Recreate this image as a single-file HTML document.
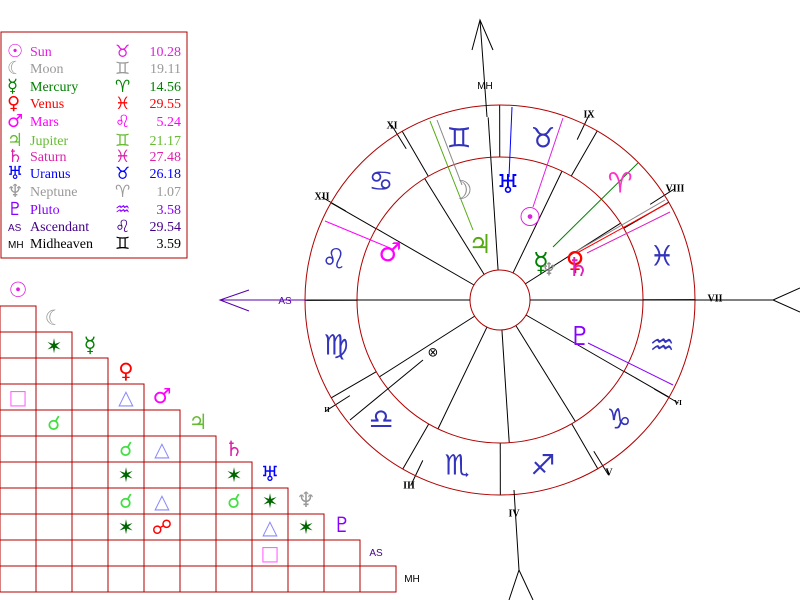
<!DOCTYPE html>
<html><head><meta charset="utf-8"><style>
html,body{margin:0;padding:0;background:#fff;width:800px;height:600px;overflow:hidden}
svg{display:block}
.g{font-family:"DejaVu Sans",sans-serif}
.t{font-family:"Liberation Serif",serif;font-size:14px}
.r{font-family:"Liberation Serif",serif;font-size:10px;font-weight:bold}
.s{font-family:"Liberation Sans",sans-serif;font-size:10px}
</style></head><body>
<svg id="c" width="800" height="600" viewBox="0 0 800 600" xmlns="http://www.w3.org/2000/svg">
<g id="lines" stroke="#000" stroke-width="1" fill="none"></g>
<circle cx="500" cy="300" r="195" fill="none" stroke="#b00000" stroke-width="1"/>
<circle cx="500" cy="300" r="143" fill="none" stroke="#b00000" stroke-width="1"/>
<circle cx="500" cy="300" r="30" fill="#fff" stroke="#b00000" stroke-width="1"/>
<g stroke="#000" fill="none">
<line x1="470" y1="300" x2="307" y2="300"/>
<line x1="530" y1="300" x2="773" y2="300"/>
<polyline points="800,288 773,300 800,312"/>
<line x1="487" y1="117" x2="480" y2="20"/>
<polyline points="472,50 480,20 493,50"/>
<line x1="514" y1="490" x2="519" y2="570"/>
<polyline points="509,600 519,570 533,600"/>
</g>
<g stroke="#5500aa" fill="none">
<line x1="307" y1="300" x2="220" y2="300"/>
<polyline points="249,290 220,300 249,311"/>
</g>
<g fill="none" stroke-width="1">
<line x1="563" y1="118" x2="533" y2="207" stroke="#e020e0"/>
<line x1="437" y1="120" x2="462" y2="185" stroke="#888"/>
<line x1="430" y1="121" x2="473" y2="230" stroke="#55aa11"/>
<line x1="512" y1="107" x2="509" y2="177" stroke="#0000ff"/>
<line x1="638" y1="163" x2="553" y2="247" stroke="#008000"/>
<line x1="665" y1="200" x2="570" y2="255" stroke="#888"/>
<line x1="668" y1="203" x2="577" y2="253" stroke="#ff0000"/>
<line x1="670" y1="212" x2="587" y2="253" stroke="#dd22bb"/>
<line x1="325" y1="221" x2="390" y2="248" stroke="#ff00ff"/>
<line x1="588" y1="343" x2="673" y2="385" stroke="#8800ff"/>
<line x1="423" y1="360" x2="350" y2="420" stroke="#000"/>
</g>
<g class="g" font-size="28" fill="#3333bb" text-anchor="middle" dominant-baseline="central">
<text x="662" y="256">♓</text>
<text x="620" y="183" fill="#ff33cc">♈</text>
<text x="543" y="138">♉</text>
<text x="459" y="138">♊</text>
<text x="381" y="181">♋</text>
<text x="334" y="259">♌</text>
<text x="336" y="345">♍</text>
<text x="381" y="419">♎</text>
<text x="457" y="465">♏</text>
<text x="543" y="465">♐</text>
<text x="619" y="419">♑</text>
<text x="662" y="345">♒</text>
</g>
<g class="g" font-size="26" text-anchor="middle" dominant-baseline="central">
<text x="530" y="218" fill="#e020e0">☉</text>
<text x="461" y="191" fill="#888">☽</text>
<text x="480" y="245" fill="#55aa11">♃</text>
<text x="508" y="185" fill="#0000ff">♅</text>
<text x="541" y="263" fill="#008000">☿</text>
<text x="549" y="270" fill="#888" font-size="18">♆</text>
<text x="575" y="262" fill="#ff0000">♀</text>
<text x="578" y="268" fill="#dd22bb">♄</text>
<text x="390" y="253" fill="#ff00ff">♂</text>
<text x="580" y="337" fill="#8800ff">♇</text>
<text x="433" y="353" fill="#000" font-size="13">⊗</text>
</g>
<g class="r" text-anchor="middle" dominant-baseline="central" fill="#000">
<text x="392" y="126">XI</text>
<text x="589" y="115">IX</text>
<text x="675" y="189">VIII</text>
<text x="715" y="299">VII</text>
<text x="678" y="403" font-size="7">VI</text>
<text x="609" y="473">V</text>
<text x="514" y="514">IV</text>
<text x="409" y="486">III</text>
<text x="327" y="410" font-size="7">II</text>
<text x="322" y="197">XII</text>
</g>
<text x="485" y="89" class="s" text-anchor="middle" fill="#000">MH</text>
<text x="285" y="304" class="s" text-anchor="middle" fill="#5500aa">AS</text>

<rect x="1" y="32" width="186" height="226" fill="none" stroke="#b00000"/>
<g class="t">
<g fill="#e020e0"><text x="7" y="57" class="g" font-size="18">☉</text><text x="30" y="56">Sun</text><text x="115" y="57" class="g" font-size="17">♉</text><text x="181" y="56" text-anchor="end">10.28</text></g>
<g fill="#999"><text x="7" y="74" class="g" font-size="18">☾</text><text x="30" y="73">Moon</text><text x="115" y="74" class="g" font-size="17">♊</text><text x="181" y="73" text-anchor="end">19.11</text></g>
<g fill="#008000"><text x="7" y="92" class="g" font-size="18">☿</text><text x="30" y="91">Mercury</text><text x="115" y="92" class="g" font-size="17">♈</text><text x="181" y="91" text-anchor="end">14.56</text></g>
<g fill="#ff0000"><text x="7" y="109" class="g" font-size="18">♀</text><text x="30" y="108">Venus</text><text x="115" y="109" class="g" font-size="17">♓</text><text x="181" y="108" text-anchor="end">29.55</text></g>
<g fill="#ff00ff"><text x="7" y="127" class="g" font-size="18">♂</text><text x="30" y="126">Mars</text><text x="115" y="127" class="g" font-size="17">♌</text><text x="181" y="126" text-anchor="end">5.24</text></g>
<g fill="#66bb33"><text x="7" y="146" class="g" font-size="18">♃</text><text x="30" y="145">Jupiter</text><text x="115" y="146" class="g" font-size="17">♊</text><text x="181" y="145" text-anchor="end">21.17</text></g>
<g fill="#dd22aa"><text x="7" y="162" class="g" font-size="18">♄</text><text x="30" y="161">Saturn</text><text x="115" y="162" class="g" font-size="17">♓</text><text x="181" y="161" text-anchor="end">27.48</text></g>
<g fill="#0000ff"><text x="7" y="179" class="g" font-size="18">♅</text><text x="30" y="178">Uranus</text><text x="115" y="179" class="g" font-size="17">♉</text><text x="181" y="178" text-anchor="end">26.18</text></g>
<g fill="#999"><text x="7" y="197" class="g" font-size="18">♆</text><text x="30" y="196">Neptune</text><text x="115" y="197" class="g" font-size="17">♈</text><text x="181" y="196" text-anchor="end">1.07</text></g>
<g fill="#8800ff"><text x="7" y="215" class="g" font-size="18">♇</text><text x="30" y="214">Pluto</text><text x="115" y="215" class="g" font-size="17">♒</text><text x="181" y="214" text-anchor="end">3.58</text></g>
<g fill="#440088"><text x="8" y="231" class="s" font-size="8">AS</text><text x="30" y="231">Ascendant</text><text x="115" y="232" class="g" font-size="17">♌</text><text x="181" y="231" text-anchor="end">29.54</text></g>
<g fill="#000"><text x="8" y="248" class="s" font-size="7">MH</text><text x="30" y="248">Midheaven</text><text x="115" y="249" class="g" font-size="17">♊</text><text x="181" y="248" text-anchor="end">3.59</text></g>
</g>

<g id="grid" fill="none" stroke="#b00000"></g>
<g class="g" font-size="21" text-anchor="middle" dominant-baseline="central">
<text x="18" y="290" fill="#e020e0">☉</text>
<text x="54" y="318" fill="#999">☾</text>
<text x="90" y="345" fill="#008000">☿</text>
<text x="126" y="371" fill="#ff0000">♀</text>
<text x="162" y="396" fill="#ff00ff">♂</text>
<text x="198" y="422" fill="#66bb33">♃</text>
<text x="234" y="449" fill="#dd22aa">♄</text>
<text x="270" y="474" fill="#0000ff">♅</text>
<text x="306" y="500" fill="#999">♆</text>
<text x="342" y="525" fill="#8800ff">♇</text>
</g>
<text x="376" y="556" class="s" fill="#440088" text-anchor="middle">AS</text>
<text x="412" y="582" class="s" fill="#000" text-anchor="middle">MH</text>
<g class="g" font-size="20" text-anchor="middle" dominant-baseline="central">
<text x="54" y="346" fill="#006600">✶</text>
<text x="18" y="397" fill="#ff66ff">□</text>
<text x="126" y="397" fill="#8888ff">△</text>
<text x="54" y="423" fill="#44dd44">☌</text>
<text x="126" y="449" fill="#44dd44">☌</text>
<text x="162" y="449" fill="#8888ff">△</text>
<text x="126" y="475" fill="#006600">✶</text>
<text x="234" y="475" fill="#006600">✶</text>
<text x="126" y="501" fill="#44dd44">☌</text>
<text x="162" y="501" fill="#8888ff">△</text>
<text x="234" y="501" fill="#44dd44">☌</text>
<text x="270" y="501" fill="#006600">✶</text>
<text x="126" y="527" fill="#006600">✶</text>
<text x="162" y="527" fill="#ff0000">☍</text>
<text x="270" y="527" fill="#8888ff">△</text>
<text x="306" y="527" fill="#006600">✶</text>
<text x="270" y="553" fill="#ff66ff">□</text>
</g>
</svg>
<script>
(function(){
var NS="http://www.w3.org/2000/svg";
var L=document.getElementById("lines");
function ln(a,r1,r2){var t=a*Math.PI/180;var e=document.createElementNS(NS,"line");
e.setAttribute("x1",500+r1*Math.cos(t));e.setAttribute("y1",300-r1*Math.sin(t));
e.setAttribute("x2",500+r2*Math.cos(t));e.setAttribute("y2",300-r2*Math.sin(t));L.appendChild(e);}
for(var k=0;k<12;k++){ln(0.1+30*k,143,195);}
var cusps=[180,212.5,244.3,273.7,301.8,330,0,32.5,64.3,93.7,121.8,150];
cusps.forEach(function(c,i){ln(c,30,143);if([0,3,6,9].indexOf(i)<0)ln(c,178,206);});
ln(93.7,143,183);
var G=document.getElementById("grid");
for(var i=0;i<11;i++){for(var j=0;j<=i;j++){var r=document.createElementNS(NS,"rect");
r.setAttribute("x",j*36);r.setAttribute("y",306+26*i);r.setAttribute("width",36);r.setAttribute("height",26);G.appendChild(r);}}
})();
</script>
</body></html>
